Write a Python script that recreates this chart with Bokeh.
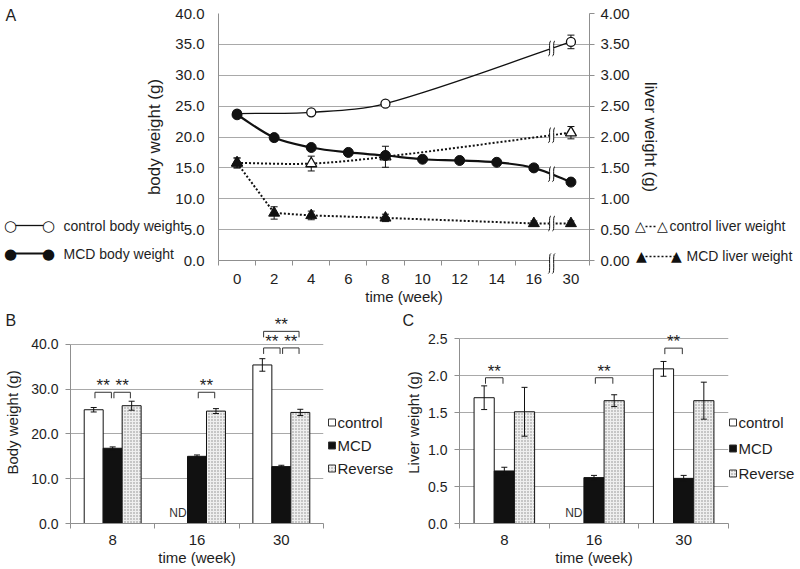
from bokeh.plotting import figure
from bokeh.models import Range1d, LinearAxis, FixedTicker, NumeralTickFormatter
from bokeh.layouts import column, row
from bokeh.embed import file_html
from bokeh.resources import INLINE
from bokeh.core.properties import value

FONT = "Liberation Sans"
SYM_FONT = "DejaVu Sans"
TXT = "#1e1e1e"
INK = "#111111"
GRID = "#a9a9a9"
AXIS = "#8f8f8f"

# ---------------- Panel A data ----------------
weeks_A = ["0", "2", "4", "6", "8", "10", "12", "14", "16", "30"]
body_ticks = [0, 5, 10, 15, 20, 25, 30, 35, 40]
liver_ticks = [0, 0.5, 1.0, 1.5, 2.0, 2.5, 3.0, 3.5, 4.0]

ctrl_body_weeks = ["0", "4", "8", "30"]
ctrl_body = [23.8, 24.0, 25.4, 35.4]
ctrl_body_err = [0.3, 0.3, 0.3, 1.1]

mcd_body_weeks = ["0", "2", "4", "6", "8", "10", "12", "14", "16", "30"]
mcd_body = [23.6, 19.9, 18.3, 17.5, 17.0, 16.4, 16.2, 15.9, 15.0, 12.7]
mcd_body_err = [0.3, 0.3, 0.4, 0.3, 0.3, 0.3, 0.3, 0.3, 0.3, 0.3]

ctrl_liver_weeks = ["0", "4", "8", "30"]
ctrl_liver = [1.58, 1.57, 1.68, 2.07]
ctrl_liver_err = [0.08, 0.12, 0.17, 0.10]

mcd_liver_weeks = ["0", "2", "4", "8", "16", "30"]
mcd_liver = [1.58, 0.77, 0.73, 0.69, 0.60, 0.60]
mcd_liver_err = [0.08, 0.10, 0.07, 0.06, 0.04, 0.04]

# ---------------- Panels B / C data ----------------
groups = ["8", "16", "30"]
bar_series = ["control", "MCD", "Reverse"]
body_control = [25.4, None, 35.4]
body_control_err = [0.5, None, 1.4]
body_mcd = [16.8, 15.0, 12.7]
body_mcd_err = [0.3, 0.3, 0.3]
body_reverse = [26.3, 25.1, 24.8]
body_reverse_err = [1.0, 0.55, 0.7]

liver_control = [1.70, None, 2.09]
liver_control_err = [0.16, None, 0.10]
liver_mcd = [0.71, 0.62, 0.61]
liver_mcd_err = [0.05, 0.03, 0.04]
liver_reverse = [1.51, 1.66, 1.66]
liver_reverse_err = [0.33, 0.08, 0.25]

# significance brackets: (group, from bar, to bar, bracket level)
sig_body = [("8", "control", "MCD", 29.3), ("8", "MCD", "Reverse", 29.3),
            ("16", "MCD", "Reverse", 29.3),
            ("30", "control", "MCD", 39.2), ("30", "MCD", "Reverse", 39.2),
            ("30", "control", "Reverse", 42.9)]
sig_liver = [("8", "control", "MCD", 1.97), ("16", "MCD", "Reverse", 1.97),
             ("30", "control", "MCD", 2.37)]


# ---------------- helpers ----------------
def style_axis(ax, label_size, title_size):
    ax.axis_line_color = AXIS
    ax.major_tick_line_color = AXIS
    ax.minor_tick_line_color = AXIS
    ax.major_label_text_font = FONT
    ax.major_label_text_font_size = label_size
    ax.major_label_text_color = TXT
    ax.axis_label_text_font = FONT
    ax.axis_label_text_font_size = title_size
    ax.axis_label_text_font_style = "normal"
    ax.axis_label_text_color = TXT


def smooth_segments(xs, ys):
    """Cubic Hermite (Excel-like smoothed line) as Bezier control points."""
    n = len(xs)
    m = []
    for i in range(n):
        a, b = max(i - 1, 0), min(i + 1, n - 1)
        m.append((ys[b] - ys[a]) / (xs[b] - xs[a]))
    segs = []
    for i in range(n - 1):
        d = (xs[i + 1] - xs[i]) / 3
        segs.append((xs[i], ys[i], xs[i + 1], ys[i + 1],
                     xs[i] + d, ys[i] + m[i] * d, xs[i + 1] - d, ys[i + 1] - m[i + 1] * d))
    return segs


def bez_at(segs, x):
    for (x0, y0, x1, y1, cx0, cy0, cx1, cy1) in segs:
        if x0 <= x <= x1:
            t = (x - x0) / (x1 - x0)
            return (1 - t) ** 3 * y0 + 3 * (1 - t) ** 2 * t * cy0 + 3 * (1 - t) * t ** 2 * cy1 + t ** 3 * y1
    return None


def draw_smooth(p, xs, ys, rn, **style):
    segs = smooth_segments(xs, ys)
    p.bezier(x0=[s[0] for s in segs], y0=[s[1] for s in segs], x1=[s[2] for s in segs],
             y1=[s[3] for s in segs], cx0=[s[4] for s in segs], cy0=[s[5] for s in segs],
             cx1=[s[6] for s in segs], cy1=[s[7] for s in segs], y_range_name=rn, **style)
    return segs


def errbars(p, xs, ys, errs, rn="default", cap=7):
    lo = [y - e for y, e in zip(ys, errs)]
    hi = [y + e for y, e in zip(ys, errs)]
    p.segment(x0=xs, y0=lo, x1=xs, y1=hi, line_color=INK, line_width=1, y_range_name=rn)
    p.scatter(x=list(xs) + list(xs), y=lo + hi, marker="dash", size=cap,
              line_color=INK, line_width=1, y_range_name=rn)


class Frame:
    """Maps pixel offsets from a frame's bottom-left corner to data units, for the
    decorations (legends, panel letters) that sit outside the frame."""
    def __init__(self, p, xr, yr, fw, fh):
        self.p, self.xr, self.yr, self.fw, self.fh = p, xr, yr, fw, fh

    def x(self, px):
        return self.xr[0] + px * (self.xr[1] - self.xr[0]) / self.fw

    def y(self, py):
        return self.yr[0] + py * (self.yr[1] - self.yr[0]) / self.fh

    def text(self, px, py, s, size, font=FONT, color=TXT, align="left"):
        self.p.text(x=[self.x(px)], y=[self.y(py)], text=[s], text_font=value(font),
                    text_font_size=size, text_color=color, text_align=align,
                    text_baseline="middle", level="overlay")

    def hline(self, px0, px1, py, width, dash):
        self.p.line(x=[self.x(px0), self.x(px1)], y=[self.y(py), self.y(py)],
                    line_color=INK, line_width=width, line_dash=dash, level="overlay")

    def box(self, px0, px1, py0, py1, **style):
        self.p.quad(left=[self.x(px0)], right=[self.x(px1)], bottom=[self.y(py0)],
                    top=[self.y(py1)], level="overlay", **style)


# ---------------- Panel A ----------------
FA_W, FA_H = 371, 247
XA, YA = (-0.5, 9.5), (0, 40)
pA = figure(frame_width=FA_W, frame_height=FA_H, x_range=Range1d(*XA),
            y_range=Range1d(*YA), min_border_left=218, min_border_right=211,
            min_border_top=13, min_border_bottom=50, output_backend="svg",
            toolbar_location=None, outline_line_color=None)
pA.extra_y_ranges = {"liver": Range1d(0, 4)}
pA.xgrid.visible = False
pA.ygrid.ticker = FixedTicker(ticks=body_ticks)
pA.ygrid.grid_line_color = GRID

pA.xaxis.ticker = FixedTicker(ticks=list(range(len(weeks_A))),
                              minor_ticks=[i - 0.5 for i in range(len(weeks_A) + 1)])
pA.xaxis.major_label_overrides = {i: w for i, w in enumerate(weeks_A)}
pA.xaxis.major_tick_out = 0
pA.xaxis.major_tick_in = 0
pA.xaxis.minor_tick_out = 5
pA.xaxis.minor_tick_in = 0
pA.xaxis.major_label_standoff = 8
pA.xaxis.axis_label = "time (week)"
pA.xaxis.axis_label_standoff = 1
style_axis(pA.xaxis[0], "15px", "15px")

pA.yaxis.ticker = FixedTicker(ticks=body_ticks)
pA.yaxis.formatter = NumeralTickFormatter(format="0.0")
pA.yaxis.major_tick_out = 0
pA.yaxis.major_tick_in = 0
pA.yaxis.major_label_standoff = 14
pA.yaxis.axis_label = "body weight (g)"
pA.yaxis.axis_label_standoff = 8
style_axis(pA.yaxis[0], "15px", "17px")

rax = LinearAxis(y_range_name="liver", ticker=FixedTicker(ticks=liver_ticks),
                 formatter=NumeralTickFormatter(format="0.00"), axis_label="liver weight (g)")
rax.major_tick_out = 5
rax.major_tick_in = 0
rax.major_label_standoff = 6
rax.axis_label_standoff = 8
style_axis(rax, "15px", "17px")
pA.add_layout(rax, "right")

xi = lambda ws: [weeks_A.index(w) for w in ws]
cbx, mbx, clx, mlx = xi(ctrl_body_weeks), xi(mcd_body_weeks), xi(ctrl_liver_weeks), xi(mcd_liver_weeks)

seg_cb = draw_smooth(pA, cbx, ctrl_body, "default", line_color=INK, line_width=1.3)
seg_cl = draw_smooth(pA, clx, ctrl_liver, "liver", line_color=INK, line_width=2, line_dash="2 2")
seg_mb = draw_smooth(pA, mbx, mcd_body, "default", line_color=INK, line_width=2.2)
pA.line(x=mlx, y=mcd_liver, y_range_name="liver", line_color=INK, line_width=2, line_dash="2 2")

errbars(pA, cbx, ctrl_body, ctrl_body_err)
errbars(pA, clx, ctrl_liver, ctrl_liver_err, "liver")
errbars(pA, mbx, mcd_body, mcd_body_err)
errbars(pA, mlx, mcd_liver, mcd_liver_err, "liver")

pA.scatter(x=clx, y=ctrl_liver, y_range_name="liver", marker="triangle", size=11,
           fill_color="white", line_color=INK, line_width=1.3)
pA.scatter(x=cbx, y=ctrl_body, marker="circle", size=9, fill_color="white",
           line_color=INK, line_width=1.3)
pA.scatter(x=mlx, y=mcd_liver, y_range_name="liver", marker="triangle", size=11,
           fill_color=INK, line_color=INK)
pA.scatter(x=mbx, y=mcd_body, marker="circle", size=10, fill_color=INK, line_color=INK)

# axis-break marks between 16 and 30 weeks
BRK_X, BRK_GAP, BRK_H_PX = 8.48, 0.055, 7.5
px_body = FA_H / 40.0


def add_break(yc, rn, units_per_px, h_px=BRK_H_PX, yshift_px=0.0):
    h = h_px * units_per_px
    yc = yc + yshift_px * units_per_px
    pA.quad(left=[BRK_X - BRK_GAP], right=[BRK_X + BRK_GAP], bottom=[yc - h], top=[yc + h],
            fill_color="white", line_color=None, y_range_name=rn, level="overlay")
    for bx in (BRK_X - BRK_GAP, BRK_X + BRK_GAP):
        pA.bezier(x0=[bx - 0.035], y0=[yc - h], x1=[bx + 0.035], y1=[yc + h],
                  cx0=[bx + 0.045], cy0=[yc - h], cx1=[bx - 0.045], cy1=[yc + h],
                  line_color=INK, line_width=1, y_range_name=rn, level="overlay")


def lin_at(xs, ys, x):
    for i in range(len(xs) - 1):
        if xs[i] <= x <= xs[i + 1]:
            return ys[i] + (ys[i + 1] - ys[i]) * (x - xs[i]) / (xs[i + 1] - xs[i])


add_break(bez_at(seg_cb, BRK_X), "default", 1 / px_body)
add_break(bez_at(seg_cl, BRK_X), "liver", 0.1 / px_body)
add_break(bez_at(seg_mb, BRK_X), "default", 1 / px_body)
add_break(lin_at(mlx, mcd_liver, BRK_X), "liver", 0.1 / px_body)
add_break(0, "default", 1 / px_body, h_px=10, yshift_px=-3)

# legends of panel A (pixel offsets from the frame's bottom-left corner)
fa = Frame(pA, XA, YA, FA_W, FA_H)
fa.hline(-203, -175, 35, 1.3, "solid")
fa.text(-208, 35, "○", "15px", SYM_FONT, INK, "center")
fa.text(-170, 35, "○", "15px", SYM_FONT, INK, "center")
fa.text(-155, 35, "control body weight", "14px")
fa.hline(-208, -170, 7, 2, "solid")
fa.text(-208, 7, "●", "15px", SYM_FONT, INK, "center")
fa.text(-170, 7, "●", "15px", SYM_FONT, INK, "center")
fa.text(-155, 7, "MCD body weight", "14px")

fa.hline(427, 439, 34, 1.5, "2 2")
fa.text(422, 35, "△", "14px", SYM_FONT, INK, "center")
fa.text(444, 35, "△", "14px", SYM_FONT, INK, "center")
fa.text(451, 35, "control liver weight", "14px")
fa.hline(423, 458, 4, 1.5, "2 2")
fa.text(423, 5, "▲", "14px", SYM_FONT, INK, "center")
fa.text(458, 5, "▲", "14px", SYM_FONT, INK, "center")
fa.text(468, 5, "MCD liver weight", "14px")

fa.text(-213, 245, "A", "16px")

# ---------------- Panels B / C ----------------
OFFS = {"control": -0.225, "MCD": 0.0, "Reverse": 0.225}
BAR_W = 0.225
INSET = 0.015
STYLE = {"control": dict(fill_color="white"),
         "MCD": dict(fill_color=INK),
         "Reverse": dict(fill_color="#efefef", hatch_pattern="dot", hatch_color="#8a8a8a",
                         hatch_scale=3, hatch_weight=1)}


def bar_panel(ymax, yaxis_max, tick_vals, grid_vals, fw, fh, ml, mr, mt, mb, ytitle,
              values, errors, sig, drop, leg_x, leg_ys, letter, letter_x, lab_stand, title_stand):
    XR, YR = (-0.5, 2.5), (0, ymax)
    p = figure(frame_width=fw, frame_height=fh, x_range=Range1d(*XR),
               y_range=Range1d(*YR), min_border_left=ml, min_border_right=mr,
               min_border_top=mt, min_border_bottom=mb, output_backend="svg",
               toolbar_location=None, outline_line_color=None)
    p.xgrid.visible = False
    p.ygrid.ticker = FixedTicker(ticks=grid_vals)
    p.ygrid.grid_line_color = GRID
    p.xaxis.ticker = FixedTicker(ticks=[0, 1, 2], minor_ticks=[-0.5, 0.5, 1.5, 2.5])
    p.xaxis.major_label_overrides = {i: g for i, g in enumerate(groups)}
    p.xaxis.major_tick_out = 0
    p.xaxis.major_tick_in = 0
    p.xaxis.minor_tick_out = 5
    p.xaxis.minor_tick_in = 0
    p.xaxis.major_label_standoff = 6
    p.xaxis.axis_label = "time (week)"
    p.xaxis.axis_label_standoff = 1
    style_axis(p.xaxis[0], "15px", "15px")
    p.yaxis.ticker = FixedTicker(ticks=tick_vals)
    p.yaxis.formatter = NumeralTickFormatter(format="0.0")
    p.yaxis.bounds = (0, yaxis_max)
    p.yaxis.major_tick_out = 5
    p.yaxis.major_tick_in = 0
    p.yaxis.major_label_standoff = lab_stand
    p.yaxis.axis_label = ytitle
    p.yaxis.axis_label_standoff = title_stand
    style_axis(p.yaxis[0], "14px", "15px")

    for key in bar_series:
        vals, errs = values[key], errors[key]
        idx = [i for i, v in enumerate(vals) if v is not None]
        xs = [i + OFFS[key] for i in idx]
        tops = [vals[i] for i in idx]
        p.vbar(x=xs, top=tops, bottom=0, width=BAR_W, line_color=INK, line_width=1, **STYLE[key])
        errbars(p, xs, tops, [errs[i] for i in idx], cap=6)

    ctrl = values["control"]
    nd = [i + OFFS["control"] for i, v in enumerate(ctrl) if v is None]
    p.text(x=nd, y=[0] * len(nd), text=["ND"] * len(nd), text_align="center",
           text_baseline="bottom", text_font=value(FONT), text_font_size="12px",
           text_color="#333333", y_offset=-4)

    bxs, bys, tx, ty = [], [], [], []
    for g, a, b, lvl in sig:
        gi = groups.index(g)
        xa, xb = gi + OFFS[a] + INSET, gi + OFFS[b] - INSET
        bxs.append([xa, xa, xb, xb])
        bys.append([lvl - drop, lvl, lvl, lvl - drop])
        tx.append((xa + xb) / 2)
        ty.append(lvl)
    p.multi_line(xs=bxs, ys=bys, line_color="#333333", line_width=1, level="overlay")
    p.text(x=tx, y=ty, text=["**"] * len(tx), text_align="center", text_baseline="bottom",
           text_font=value(FONT), text_font_size="17px", text_color=TXT, y_offset=3,
           level="overlay")

    fr = Frame(p, XR, YR, fw, fh)
    for key, ly in zip(bar_series, leg_ys):
        fr.box(leg_x, leg_x + 7, ly - 3.5, ly + 3.5, line_color="#333333", line_width=1,
               **STYLE[key])
        fr.text(leg_x + 9, ly, key, "15px")
    fr.text(letter_x, 203, letter, "16px")
    return p


# both bar panels share the frame top (page y 321) and bottom (page y 523)
pB = bar_panel(45.1, 40, [0, 10, 20, 30, 40], [10, 20, 30, 40], 253, 202, 70, 77, 11, 46,
               "Body weight (g)",
               {"control": body_control, "MCD": body_mcd, "Reverse": body_reverse},
               {"control": body_control_err, "MCD": body_mcd_err, "Reverse": body_reverse_err},
               sig_body, 6 / 4.48, 258, [101, 78, 55], "B", -65, 7, 7)
pC = bar_panel(2.73, 2.5, [0, 0.5, 1.0, 1.5, 2.0, 2.5], [0.5, 1.0, 1.5, 2.0, 2.5], 269, 202,
               59, 72, 11, 46, "Liver weight (g)",
               {"control": liver_control, "MCD": liver_mcd, "Reverse": liver_reverse},
               {"control": liver_control_err, "MCD": liver_mcd_err, "Reverse": liver_reverse_err},
               sig_liver, 6 / 74.0, 270, [101, 75, 50], "C", -57, 7, 3)

layout = column(pA, row(pB, pC))
open("out.html", "w").write(file_html(layout, INLINE))
